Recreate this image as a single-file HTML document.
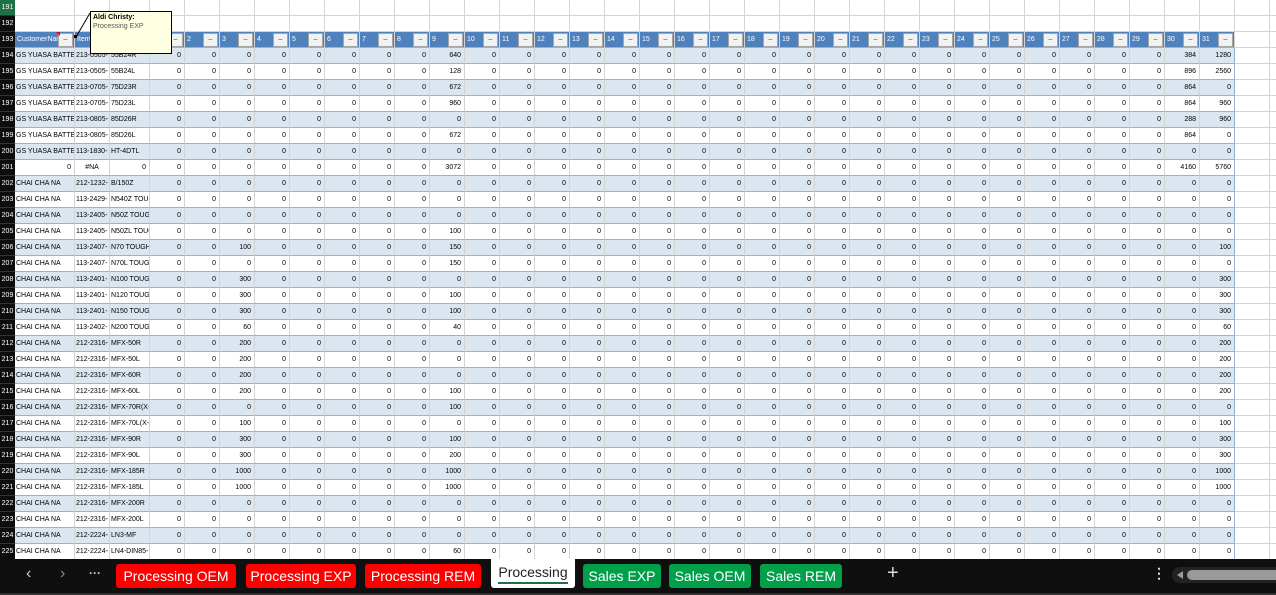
<!DOCTYPE html>
<html><head><meta charset="utf-8"><style>
*{margin:0;padding:0;box-sizing:border-box}
body{width:1276px;height:595px;overflow:hidden;background:#fff;font-family:"Liberation Sans",Arial,sans-serif;position:relative}
.c{position:absolute;height:16px;line-height:16px;font-size:7px;color:#000;white-space:nowrap;overflow:hidden;border-right:1px solid #d4d4d4;border-bottom:1px solid #d4d4d4}
.n{text-align:right;padding-right:3px}
.rh{position:absolute;left:0;width:15px;height:16px;line-height:16px;background:#0d0d0d;color:#fff;font-size:7px;text-align:center;border-bottom:1px solid #333}
.hd{background:#4f81bd;color:#fff;padding-left:2px;border-bottom:1px solid #95b3d7}
.dd{position:absolute;right:1px;top:1px;width:15px;height:14px;background:#f2f2f2;border:1px solid #a6a6a6;font-size:7px;line-height:12px;text-align:center;color:#444}
.tab{position:absolute;top:564px;height:24px;line-height:24px;font-size:14px;color:#fff;text-align:center;border-radius:3px}
</style></head><body>
<div id="grid"></div>
<div style="position:absolute;left:90px;top:11px;width:82px;height:43px;background:#ffffe1;border:1px solid #000;font-size:7px;padding:1px 2px;line-height:9px"><b>Aldi Christy:</b><br><span style="color:#555">Processing EXP</span></div>
<svg style="position:absolute;left:0;top:0" width="100" height="60"><line x1="76" y1="37" x2="90" y2="13" stroke="#000" stroke-width="1"/><rect x="74" y="35" width="3" height="3" fill="#000"/></svg>
<div style="position:absolute;left:0;top:559px;width:1276px;height:36px;background:#0f0f0f;border-bottom:2px solid #333"></div>
<div style="position:absolute;left:26px;top:565px;color:#ccc;font-size:16px">&#8249;</div>
<div style="position:absolute;left:60px;top:565px;color:#888;font-size:16px">&#8250;</div>
<div style="position:absolute;left:89px;top:566px;color:#ccc;font-size:12px;font-weight:bold">&middot;&middot;&middot;</div>
<div class="tab" style="left:116px;width:120px;background:#f00">Processing OEM</div>
<div class="tab" style="left:246px;width:110px;background:#f00">Processing EXP</div>
<div class="tab" style="left:365px;width:116px;background:#f00">Processing REM</div>
<div class="tab" style="left:491px;top:559px;height:29px;width:84px;background:#fff;color:#222;line-height:26px;border-radius:0 0 3px 3px">Processing<div style="position:absolute;left:7px;right:7px;bottom:4px;height:2px;background:#1e7145"></div></div>
<div class="tab" style="left:583px;width:78px;background:#00a04b">Sales EXP</div>
<div class="tab" style="left:669px;width:82px;background:#00a04b">Sales OEM</div>
<div class="tab" style="left:760px;width:82px;background:#00a04b">Sales REM</div>
<div style="position:absolute;left:887px;top:562px;color:#ddd;font-size:20px">+</div>
<div style="position:absolute;left:1152px;top:565px;color:#ddd;font-size:14px;font-weight:bold">&#8942;</div>
<div style="position:absolute;left:1172px;top:567px;width:104px;height:16px;background:#222;border-radius:8px 0 0 8px"><div style="position:absolute;left:5px;top:4px;border-right:6px solid #999;border-top:4px solid transparent;border-bottom:4px solid transparent"></div><div style="position:absolute;left:15px;top:3px;right:0;height:10px;background:#9a9a9a;border-radius:5px 0 0 5px"></div></div>
<script>
const customers=["GS YUASA BATTER","GS YUASA BATTER","GS YUASA BATTER","GS YUASA BATTER","GS YUASA BATTER","GS YUASA BATTER","GS YUASA BATTER","0","CHAI CHA NA","CHAI CHA NA","CHAI CHA NA","CHAI CHA NA","CHAI CHA NA","CHAI CHA NA","CHAI CHA NA","CHAI CHA NA","CHAI CHA NA","CHAI CHA NA","CHAI CHA NA","CHAI CHA NA","CHAI CHA NA","CHAI CHA NA","CHAI CHA NA","CHAI CHA NA","CHAI CHA NA","CHAI CHA NA","CHAI CHA NA","CHAI CHA NA","CHAI CHA NA","CHAI CHA NA","CHAI CHA NA","CHAI CHA NA"];
const itemCodes=["213-0505-","213-0505-","213-0705-","213-0705-","213-0805-","213-0805-","113-1830-","#NA","212-1232-","113-2429-","113-2405-","113-2405-","113-2407-","113-2407-","113-2401-","113-2401-","113-2401-","113-2402-","212-2316-","212-2316-","212-2316-","212-2316-","212-2316-","212-2316-","212-2316-","212-2316-","212-2316-","212-2316-","212-2316-","212-2316-","212-2224-","212-2224-"];
const itemNames=["55B24R","55B24L","75D23R","75D23L","85D26R","85D26L","HT-4DTL","0","B/150Z","N540Z TOUG","N50Z TOUGH","N50ZL TOUG","N70 TOUGH","N70L TOUGH","N100 TOUGH","N120 TOUGH","N150 TOUGH","N200 TOUGH","MFX-50R","MFX-50L","MFX-60R","MFX-60L","MFX-70R(X-","MFX-70L(X-","MFX-90R","MFX-90L","MFX-185R","MFX-185L","MFX-200R","MFX-200L","LN3-MF","LN4-DIN85-"];
const day3=[0,0,0,0,0,0,0,0,0,0,0,0,100,0,300,300,300,60,200,200,200,200,0,100,300,300,1000,1000,0,0,0,0];
const day9=[640,128,672,960,0,672,0,3072,0,0,0,100,150,150,0,100,100,40,0,0,0,100,100,0,100,200,1000,1000,0,0,0,60];
const day30=[384,896,864,864,288,864,0,4160,0,0,0,0,0,0,0,0,0,0,0,0,0,0,0,0,0,0,0,0,0,0,0,0];
const day31=[1280,2560,0,960,960,0,0,5760,0,0,0,0,100,0,300,300,300,60,200,200,200,200,0,100,300,300,1000,1000,0,0,0,0];
const g=document.getElementById('grid');
const colX=[15,75,110,150];for(let d=2;d<=32;d++)colX.push(150+(d-1)*35);
function cell(x,y,w,cls,txt,name){const e=document.createElement('div');e.className='c '+cls;


e.style.left=x+'px';e.style.top=y+'px';e.style.width=w+'px';e.textContent=txt;g.appendChild(e);return e;}
for(let r=191;r<=225;r++){const y=(r-191)*16;const h=document.createElement('div');h.className='rh';


h.style.top=y+'px';h.textContent=r;if(r==191)h.style.background='#1e7145';g.appendChild(h);
for(let x=1235;x<1276;x+=35){cell(x,y,35,'','','empty-cell');}
if(r<193){for(let i=0;i<colX.length-1;i++)cell(colX[i],y,colX[i+1]-colX[i],'','','empty-cell');continue;}
if(r==193){const heads=["CustomerNam","Item",""];for(let d=1;d<=31;d++)heads.push(d==1?"":String(d));
for(let i=0;i<heads.length;i++){const e=cell(colX[i],y,colX[i+1]-colX[i],'hd',heads[i],'header-'+(heads[i]||i));
const b=document.createElement('div');b.className='dd';b.textContent='\u2013';


e.appendChild(b);}
const t=document.createElement('div');t.style.cssText='position:absolute;left:56px;top:32px;border-top:4px solid #f00;border-left:4px solid transparent';


g.appendChild(t);continue;}
const k=r-194;const bg=k%2==0?'#dce6f1':'#fff';
const isNA=k==7;
const a=cell(15,y,60,isNA?'n':'',customers[k],'customer-name');
const b=cell(75,y,35,'',itemCodes[k],'item-code');if(isNA){b.style.textAlign='center';}
const c=cell(110,y,40,isNA?'n':'',itemNames[k],'item-name');
[a,b,c].forEach(e=>{e.style.background=bg;e.style.borderBottom='1px solid #95b3d7';e.style.paddingLeft=isNA?'0':'1px';});
for(let d=1;d<=31;d++){let v=0;if(d==3)v=day3[k];if(d==9)v=day9[k];if(d==30)v=day30[k];if(d==31)v=day31[k];
const e=cell(colX[d+2],y,35,'n',String(v),'day-'+d+'-value');e.style.background=bg;e.style.borderBottom='1px solid #95b3d7';
if(d==31)e.style.borderRight='1px solid #95b3d7';}}
</script>
</body></html>
